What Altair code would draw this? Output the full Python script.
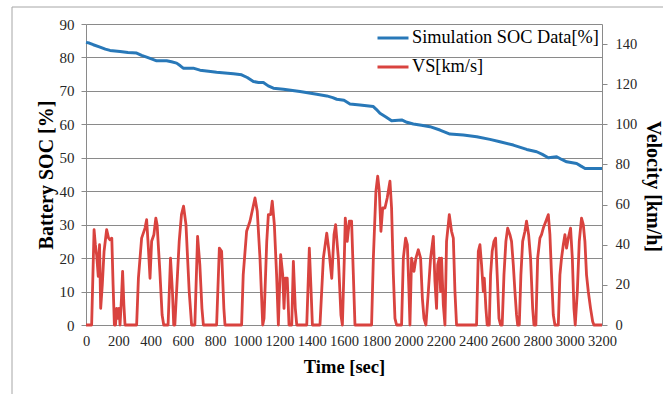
import altair as alt
import pandas as pd

# ---- data ----
soc_t = [0, 20, 45, 87, 120, 149, 211, 260, 314, 345, 376, 410, 438, 500, 530, 562, 585, 603,
         665, 707, 760, 810, 914, 965, 1000, 1038, 1070, 1100, 1130, 1162, 1224, 1327, 1431,
         1493, 1530, 1555, 1600, 1637, 1699, 1782, 1800, 1823, 1860, 1895, 1958, 1990, 2030,
         2080, 2133, 2195, 2257, 2340, 2423, 2505, 2567, 2650, 2733, 2795, 2830, 2867, 2919,
         2950, 2981, 3043, 3070, 3095, 3200]
soc_v = [84.5, 84.3, 83.8, 83.1, 82.5, 82.1, 81.8, 81.5, 81.3, 80.6, 80.1, 79.5, 79.0, 79.0,
         78.7, 78.3, 77.5, 76.8, 76.8, 76.2, 75.9, 75.6, 75.1, 74.8, 74.0, 72.8, 72.5, 72.5,
         71.5, 70.8, 70.5, 69.8, 69.0, 68.5, 68.0, 67.5, 67.2, 66.1, 65.8, 65.3, 64.5, 63.3,
         62.2, 61.1, 61.3, 60.6, 60.1, 59.7, 59.3, 58.3, 57.1, 56.8, 56.3, 55.5, 54.8, 53.8,
         52.5, 51.8, 51.0, 50.0, 50.3, 49.5, 48.8, 48.3, 47.5, 46.8, 46.8]

vs_t = [0, 35, 50, 58, 66, 76, 84, 91, 101, 112, 128, 140, 149, 160, 168, 176, 183, 190, 198,
        205, 211, 220, 227, 235, 242, 314, 325, 345, 366, 376, 387, 397, 407, 421, 433, 441,
        458, 472, 482, 509, 524, 536, 544, 551, 578, 592, 605, 620, 640, 655, 675, 692, 706,
        719, 728, 810, 827, 841, 855, 862, 965, 975, 996, 1017, 1048, 1062, 1079, 1096, 1104,
        1121, 1131, 1145, 1155, 1168, 1182, 1193, 1207, 1220, 1228, 1236, 1248, 1259, 1276,
        1286, 1298, 1307, 1369, 1385, 1396, 1404, 1451, 1472, 1493, 1507, 1524, 1538, 1548,
        1565, 1581, 1590, 1602, 1608, 1620, 1633, 1647, 1658, 1668, 1771, 1782, 1798, 1809,
        1819, 1829, 1840, 1854, 1868, 1885, 1895, 1906, 1916, 1926, 1957, 1968, 1982, 1993,
        2003, 2009, 2019, 2034, 2046, 2061, 2075, 2086, 2096, 2108, 2123, 2137, 2154, 2164,
        2174, 2181, 2191, 2199, 2205, 2216, 2226, 2236, 2253, 2267, 2278, 2288, 2298, 2422,
        2433, 2443, 2453, 2464, 2470, 2480, 2488, 2501, 2509, 2519, 2530, 2540, 2550, 2561,
        2571, 2581, 2592, 2604, 2615, 2629, 2639, 2650, 2660, 2670, 2677, 2687, 2697, 2708,
        2722, 2732, 2745, 2757, 2770, 2778, 2790, 2801, 2815, 2825, 2836, 2852, 2867, 2877,
        2887, 2898, 2908, 2929, 2939, 2949, 2960, 2970, 2980, 2991, 3005, 3016, 3026, 3034,
        3047, 3059, 3073, 3084, 3094, 3104, 3115, 3129, 3142, 3150, 3200]
vs_v = [0, 0, 47.5, 40, 35, 24.2, 40, 8.3, 20, 36.7, 47.5, 43.3, 42.5, 43.3, 20, 0, 0, 8.3, 3.3,
        8.3, 0, 13.3, 26.7, 10, 0, 0, 23.3, 43.3, 48.3, 52.5, 38.3, 23.3, 41.7, 45, 53.3, 50,
        26.7, 5, 0, 0, 33.3, 16.7, 0, 0, 41.7, 55, 59.2, 50, 16.7, 0, 0, 44.2, 30, 8.3, 0, 0,
        38.3, 36.7, 8.3, 0, 0, 25, 46.7, 51.7, 63.3, 56.7, 33.3, 0, 3.3, 41.7, 55, 55, 61.7,
        50, 25, 0, 35, 25, 8.3, 23.3, 23.3, 0, 0, 31.7, 8.3, 0, 0, 38.3, 16.7, 0, 0, 33.3,
        45.8, 36.7, 23.3, 45, 50, 33.3, 5, 0, 33.3, 53.3, 41.7, 51.7, 51.7, 25, 0, 0, 33.3,
        66.7, 74.2, 66.7, 46.7, 58.3, 58.3, 63.3, 71.7, 58.3, 25, 3.3, 0, 0, 33.3, 43.3, 40,
        16.7, 0, 33.3, 26.7, 33.3, 37.5, 33.3, 13.3, 3.3, 0, 16.7, 33.3, 44.2, 21.7, 8.3,
        30, 33.3, 16.7, 33.3, 10, 0, 41.7, 55, 46.7, 43.3, 16.7, 0, 0, 36.7, 40, 30, 16.7,
        23.3, 8.3, 0, 0, 25, 36.7, 41.7, 43.3, 25, 3.3, 0, 0, 25, 41.7, 48.3, 45, 41.7, 30,
        16.7, 5, 0, 0, 25, 41.7, 46.7, 51.7, 45, 33.3, 8.3, 0, 0, 33.3, 43.3, 45, 48.3, 51.7,
        55, 45, 25, 5, 0, 0, 25, 33.3, 40, 45, 38.3, 43.3, 48.3, 33.3, 8.3, 0, 16.7, 41.7,
        53.3, 50, 41.7, 25, 16.7, 8.3, 1.7, 0, 0]

series_names = ["Simulation SOC Data[%]", "VS[km/s]"]
series_colors = ["#2878b8", "#d9433f"]
x_ticks = list(range(0, 3201, 200))
left_ticks = list(range(0, 91, 10))
right_ticks = list(range(0, 141, 20))

df_soc = pd.DataFrame({"t": soc_t, "v": soc_v, "series": series_names[0]})
df_vs = pd.DataFrame({"t": vs_t, "v": vs_v, "series": series_names[1]})

FONT = "Times New Roman, Liberation Serif, serif"
GRAY = "#8a8a8a"
LABEL = "#262626"

legend = alt.Legend(orient="none", legendX=290, legendY=-3, title=None,
                    symbolType="stroke", symbolSize=961, symbolStrokeWidth=3,
                    labelFont=FONT, labelFontSize=18.3, labelColor="#000000",
                    labelOffset=2, rowPadding=3, padding=0, labelLimit=400)
color = alt.Color("series:N", scale=alt.Scale(domain=series_names, range=series_colors),
                  legend=legend)

x_enc = alt.X("t:Q", scale=alt.Scale(domain=[0, 3200], nice=False),
              axis=alt.Axis(values=x_ticks, format="d", title="Time [sec]", grid=False,
                            ticks=False, labelFlush=False, labelOverlap=False, labelPadding=9,
                            labelFont=FONT, labelFontSize=14.5, labelColor=LABEL,
                            titleFont=FONT, titleFontSize=18.5, titlePadding=10,
                            domainColor=GRAY))

soc_line = alt.Chart(df_soc).mark_line(strokeWidth=3, strokeJoin="round").encode(
    x=x_enc,
    y=alt.Y("v:Q", scale=alt.Scale(domain=[0, 90], nice=False),
            axis=alt.Axis(values=left_ticks, format="d", title="Battery SOC [%]",
                          orient="left", grid=True, gridColor=GRAY, tickSize=5,
                          tickColor=GRAY, labelPadding=7, labelFont=FONT, labelFontSize=15,
                          labelColor=LABEL, titleFont=FONT, titleFontSize=20,
                          titlePadding=3, domainColor=GRAY, labelOverlap=False)),
    color=color,
)

vs_line = alt.Chart(df_vs).mark_line(strokeWidth=2.8, strokeJoin="round").encode(
    x=x_enc,
    y=alt.Y("v:Q", scale=alt.Scale(domain=[0, 150], nice=False),
            axis=alt.Axis(values=right_ticks, format="d", title="Velocity [km/h]",
                          orient="right", grid=False, tickSize=5, tickColor=GRAY,
                          labelPadding=8, labelFont=FONT, labelFontSize=14.5,
                          labelColor=LABEL, titleFont=FONT, titleFontSize=20,
                          titlePadding=6, titleY=162, domainColor=GRAY,
                          labelOverlap=False)),
    color=color,
)

frame_data = alt.Data(values=[{"k": 1}])
frame_left = alt.Chart(frame_data).mark_rule(color="#a6a6a6", strokeWidth=1).encode(
    x=alt.value(-74), y=alt.value(-17), y2=alt.value(380))
frame_top = alt.Chart(frame_data).mark_rule(color="#a6a6a6", strokeWidth=1).encode(
    x=alt.value(-74), x2=alt.value(577), y=alt.value(-17))

chart = alt.layer(frame_left, frame_top, vs_line, soc_line).resolve_scale(
    y="independent"
).properties(
    width=516, height=301,
    autosize=alt.AutoSizeParams(type="none"),
    padding={"left": 86, "top": 24, "right": 69, "bottom": 69},
    background="#ffffff",
).configure_axis(
    titleFontWeight="bold", titleColor="#000000",
).configure_view(strokeWidth=0)

chart.save("out.html", embed_options={"renderer": "svg", "actions": False})
